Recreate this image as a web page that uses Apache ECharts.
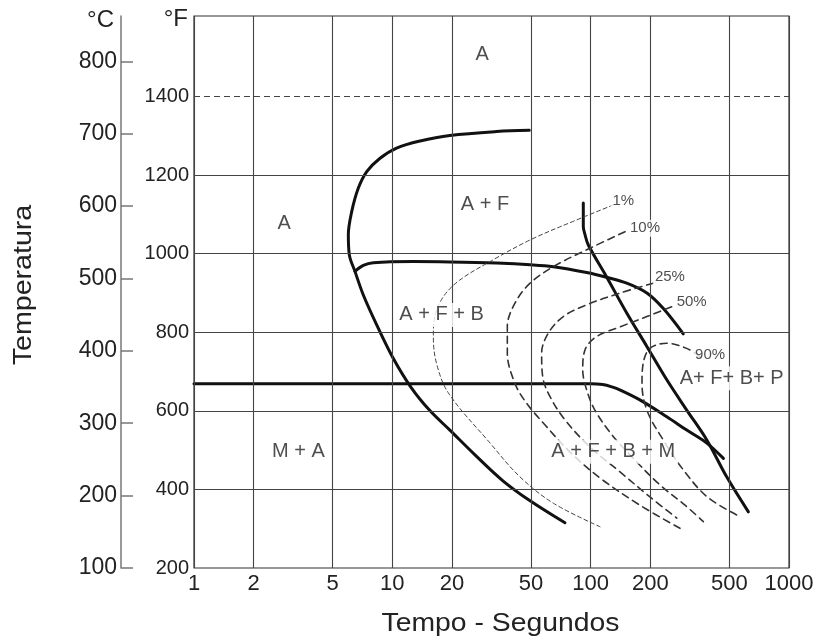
<!DOCTYPE html>
<html><head><meta charset="utf-8">
<script src="https://cdn.jsdelivr.net/npm/echarts@6/dist/echarts.min.js"></script>
<style>html,body{margin:0;padding:0;background:#fff}#c{width:816px;height:643px}</style>
</head><body><div id="c"></div>
<script>
// ---- data ----
const timeTicks = [1, 2, 5, 10, 20, 50, 100, 200, 500, 1000];
const tempFGrid = [400, 600, 800, 1000, 1200];
const tempFDashed = 1400;
const tempCTicks = [100, 200, 300, 400, 500, 600, 700, 800];

const ferriteStart = [[49,1314],[33.6,1311],[19.5,1301],[13.8,1287],[10.5,1269],[8.67,1243],[7.43,1209],[6.74,1167],[6.24,1107],[6.0,1048],[6.07,997],[6.48,955],[7.14,895],[8.34,819],[10.1,734],[12.5,658],[15.5,600],[19.5,551],[26.1,488],[36.1,422],[49.5,371],[74.2,315]];
const bainiteStart = [[6.48,955],[7.14,970],[8.02,977],[12.8,980],[19.5,979],[33.6,976],[49.5,972],[64.8,967],[95.5,952],[120,940],[152,925],[192,900],[232,861],[293,796]];
const martensiteStart = [[1,669],[100,669],[115,667],[128,661],[141,653],[177,628],[242,585],[305,551],[385,518],[467,479]];
const pearliteStart = [[91.8,1129],[91.8,1069],[93.7,1048],[97.3,1022],[120,942],[152,849],[192,764],[242,679],[305,602],[385,526],[485,432],[624,343]];
const pct1 = [[130,1124],[85,1086],[49.5,1035],[31.1,980],[21.9,933],[18.1,891],[16.4,840],[16.1,789],[16.7,721],[19.2,645],[31.1,518],[44,432],[64.8,365],[111.5,305]];
const pct10 = [[149,1056],[95.5,1010],[64.8,967],[49.5,925],[41.5,874],[38,814],[38,747],[41.5,670],[47.6,619],[58.9,564],[78.7,495],[111.5,429],[177,360],[282,301]];
const pct25 = [[207,925],[141,900],[95.5,870],[72.8,840],[61.2,798],[56.6,747],[57.3,687],[62.4,636],[74.2,577],[99.2,508],[141,444],[199,381],[272,327]];
const pct50 = [[256,865],[192,840],[141,814],[107,789],[93.6,755],[91.2,704],[95.5,653],[105,602],[128,539],[167,475],[224,411],[299,360],[370,318]];
const pct90 = [[356,738],[305,759],[242,772],[199,759],[184,721],[181.5,670],[192,602],[232,526],[293,450],[385,382],[545,335]];

const regionLabels = [[28.4,1506,'A'],[29.3,1124,'A + F'],[2.85,1076,'A'],[17.7,844,'A + F + B'],[3.36,496,'M + A'],[130,496,'A + F + B + M'],[514,683,'A+ F+ B+ P']];
const percentLabels = [[146,1135,'1%'],[188,1065,'10%'],[251,942,'25%'],[323,878,'50%'],[400,742,'90%']];

// ---- chart ----
const FONT = '"Liberation Sans", Arial, sans-serif';
const TXT = '#222';
const chart = echarts.init(document.getElementById('c'));

function curve(name, data, width, type, color) {
  return { name, type: 'line', data, yAxisIndex: 0, smooth: 0.35, symbol: 'none',
    silent: true, z: 3, lineStyle: { width, type, color, cap: 'round' } };
}

const gridMarks = [];
timeTicks.forEach(t => gridMarks.push({ xAxis: t, name: String(t),
  label: { show: true, position: 'start', formatter: '{b}', fontSize: 22, color: TXT, fontFamily: FONT, distance: 5 } }));
tempFGrid.forEach(f => gridMarks.push({ yAxis: f }));
gridMarks.push({ yAxis: tempFDashed, lineStyle: { type: [6, 4], color: '#444', width: 1 } });

const option = {
  animation: false,
  backgroundColor: '#fff',
  textStyle: { fontFamily: FONT },
  grid: { left: 194, top: 16, width: 595, height: 552, show: true, borderColor: '#333', borderWidth: 1.2,
    containLabel: false, outerBoundsMode: 'none' },
  xAxis: { type: 'log', logBase: 10, min: 1, max: 1000,
    axisLine: { show: false }, axisTick: { show: false }, axisLabel: { show: false },
    splitLine: { show: false }, minorSplitLine: { show: false } },
  yAxis: [
    { type: 'value', min: 200, max: 1605, interval: 200, position: 'left',
      axisLine: { show: false }, axisTick: { show: false }, splitLine: { show: false },
      axisLabel: { fontSize: 20, color: TXT, margin: 5, fontFamily: FONT,
        formatter: v => (v % 200 === 0 && v <= 1400) ? String(v) : '' },
      name: '°F', nameLocation: 'end', nameGap: -3, nameMoveOverlap: false,
      nameTextStyle: { fontSize: 24, color: TXT, fontFamily: FONT, align: 'right', verticalAlign: 'middle', padding: [0, 6, 0, 0] } },
    { type: 'value', min: 100, max: 862.6, interval: 100, position: 'left', offset: 73,
      axisLine: { show: true, lineStyle: { color: '#777', width: 1.5 } },
      axisTick: { show: true, inside: true, length: 12, lineStyle: { color: '#777', width: 1.5 }, customValues: tempCTicks },
      axisLabel: { fontSize: 23, color: TXT, margin: 4, fontFamily: FONT, customValues: tempCTicks,
        formatter: v => v <= 800 ? String(v) : '' },
      splitLine: { show: false },
      name: '°C', nameLocation: 'end', nameGap: -4, nameMoveOverlap: false,
      nameTextStyle: { fontSize: 24, color: TXT, fontFamily: FONT, align: 'right', verticalAlign: 'middle', padding: [0, 7, 0, 0] } }
  ],
  graphic: [
    { type: 'text', x: 23.5, y: 285, rotation: Math.PI / 2, scaleX: 1.1,
      style: { text: 'Temperatura', font: '26px "Liberation Sans", Arial, sans-serif', fill: TXT, textAlign: 'center', textVerticalAlign: 'middle' } },
    { type: 'text', x: 500.5, y: 624, scaleX: 1.09,
      style: { text: 'Tempo - Segundos', font: '26px "Liberation Sans", Arial, sans-serif', fill: TXT, textAlign: 'center', textVerticalAlign: 'middle' } }
  ],
  series: [
    { name: 'grid', type: 'line', data: [[1, 200]], symbol: 'none', silent: true, z: 1, yAxisIndex: 0,
      lineStyle: { width: 0 },
      markLine: { symbol: 'none', silent: true, animation: false, label: { show: false },
        lineStyle: { color: '#444', width: 1.1, type: 'solid' }, data: gridMarks } },
    curve('ferrite', ferriteStart, 3, 'solid', '#111'),
    curve('bainite', bainiteStart, 3, 'solid', '#111'),
    curve('martensite', martensiteStart, 3, 'solid', '#111'),
    curve('pearlite', pearliteStart, 3, 'solid', '#111'),
    curve('1%', pct1, 1, [4, 3], '#444'),
    curve('10%', pct10, 1.6, [7, 5], '#333'),
    curve('25%', pct25, 1.6, [7, 5], '#333'),
    curve('50%', pct50, 1.6, [7, 5], '#333'),
    curve('90%', pct90, 1.6, [7, 5], '#333'),
    { name: 'regions', type: 'scatter', data: regionLabels, symbolSize: 0, yAxisIndex: 0, z: 5, silent: true,
      label: { show: true, position: 'inside', formatter: p => p.data[2], fontSize: 20, color: TXT, fontFamily: FONT,
        backgroundColor: '#fff', padding: [2, 3] } },
    { name: 'percents', type: 'scatter', data: percentLabels, symbolSize: 0, yAxisIndex: 0, z: 5, silent: true,
      label: { show: true, position: 'inside', formatter: p => p.data[2], fontSize: 15, color: TXT, fontFamily: FONT,
        backgroundColor: '#fff', padding: [1, 2] } }
  ]
};
chart.setOption(option);
</script>
</body></html>
